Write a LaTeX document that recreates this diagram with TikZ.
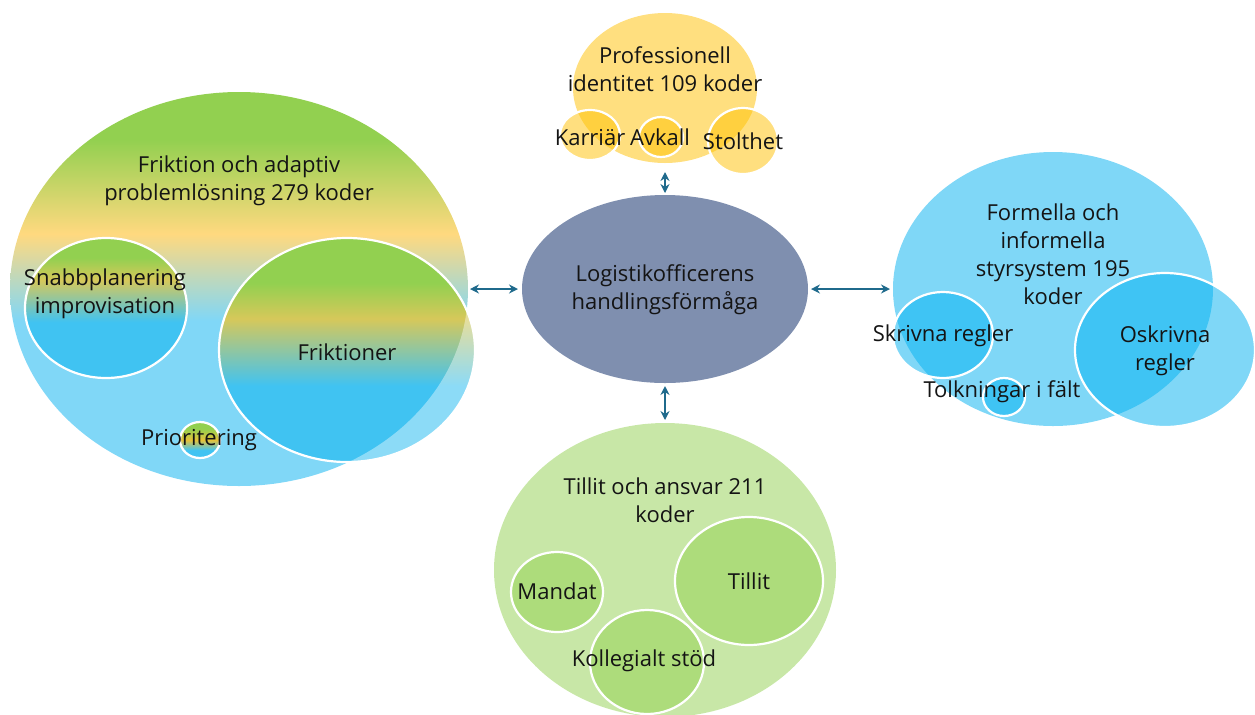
\documentclass[tikz,border=0pt]{standalone}
\usepackage{fontspec}
\setmainfont{Open Sans}
\usetikzlibrary{shapes.geometric,arrows.meta}
\definecolor{cgreen}{HTML}{92D050}
\definecolor{cyellow}{HTML}{FFD97F}
\definecolor{clblue}{HTML}{80D7F7}
\definecolor{cblue}{HTML}{40C3F2}
\definecolor{colive}{HTML}{D6C85A}
\definecolor{corange}{HTML}{E5C23A}
\definecolor{yfill}{HTML}{FFC000}
\definecolor{bfill}{HTML}{00B0F0}
\definecolor{gfill}{HTML}{92D050}
\definecolor{corefill}{HTML}{7F8FAF}
\definecolor{arrowc}{HTML}{1F6A8C}
\definecolor{txt}{HTML}{141414}
\pgfdeclareverticalshading{bigLshade}{100bp}{color(0bp)=(clblue); color(46bp)=(clblue); color(57bp)=(cyellow); color(69bp)=(cgreen); color(100bp)=(cgreen)}
\pgfdeclareverticalshading{snabshade}{100bp}{color(0bp)=(cblue); color(45bp)=(cblue); color(60bp)=(colive); color(68bp)=(cgreen); color(100bp)=(cgreen)}
\pgfdeclareverticalshading{frshade}{100bp}{color(0bp)=(cblue); color(42bp)=(cblue); color(57bp)=(colive); color(65bp)=(cgreen); color(100bp)=(cgreen)}
\pgfdeclareverticalshading{prioshade}{100bp}{color(0bp)=(cblue); color(36bp)=(cblue); color(50bp)=(corange); color(66bp)=(cgreen); color(100bp)=(cgreen)}
\begin{document}
\begin{tikzpicture}[x=0.5pt, y=-0.5pt,
  font=\fontsize{11pt}{14pt}\selectfont,
  blob/.style 2 args={ellipse, inner sep=0pt, outer sep=0pt, minimum width=#1pt, minimum height=#2pt},
  ring/.style={draw=white, line width=1.1pt},
  ysoft/.style={fill=yfill, fill opacity=0.5},
  bsoft/.style={fill=bfill, fill opacity=0.5},
  gsoft/.style={fill=gfill, fill opacity=0.5},
  lbl/.style={align=center, text=txt, inner sep=0pt},
  conn/.style={draw=arrowc, line width=0.8pt, {Stealth[length=4.5pt,width=4.5pt]}-{Stealth[length=4.5pt,width=4.5pt]}}]
\useasboundingbox (0,0) rectangle (1255,714);
% left cluster
\node[blob={229}{197}, shade, shading=bigLshade] (fric) at (239,289) {};
\node[blob={81}{70}, shade, shading=snabshade, ring] (snab) at (106,308) {};
\node[blob={20}{18}, shade, shading=prioshade, ring] (prio) at (200,440) {};
\node[blob={128}{112}, shade, shading=frshade, ring] (frik) at (347,350) {};
\begin{scope}
  \clip (frik.center) ellipse [x radius=64pt, y radius=56pt];
  \fill[white, fill opacity=0.4, even odd rule] (0,0) rectangle (1255,714) (fric.center) ellipse [x radius=114.5pt, y radius=98.5pt];
\end{scope}
% top cluster
\node[blob={92}{75}, ysoft] (prof) at (665,88) {};
\node[blob={30}{25}, ysoft, ring] (karr) at (590,135) {};
\node[blob={22}{20}, ysoft, ring] (avk) at (661,137) {};
\node[blob={35}{33}, ysoft, ring] (stol) at (743,141) {};
% centre
\node[blob={143}{94}, fill=corefill] (core) at (665,289) {};
% right cluster
\node[blob={160}{137}, bsoft] (form) at (1053,289) {};
\node[blob={50}{43}, bsoft, ring] (skr) at (943,335) {};
\node[blob={21}{19}, bsoft, ring] (tolk) at (1004,397) {};
\node[blob={90}{77}, bsoft, ring] (oskr) at (1165,350) {};
% bottom cluster
\node[blob={171}{147}, gsoft] (till) at (665,570) {};
\node[blob={46}{40}, gsoft, ring] (mand) at (557,592) {};
\node[blob={74}{64}, gsoft, ring] (tilt) at (749,581) {};
\node[blob={57}{52}, gsoft, ring] (koll) at (647,662) {};
% texts
\node[lbl] (tFric) at (239,181) {Friktion och adaptiv\\problemlösning 279 koder};
\node[lbl] (tSnab) at (105,294) {Snabbplanering\\improvisation};
\node[lbl] (tFrik) at (347,352) {Friktioner};
\node[lbl] (tPrio) at (199,440) {Prioritering};
\node[lbl] (tProf) at (665,69) {Professionell\\identitet 109 koder};
\node[lbl] (tKarr) at (590,138) {Karriär};
\node[lbl] (tAvk) at (660,137) {Avkall};
\node[lbl] (tStol) at (743,141) {Stolthet};
\node[lbl] (tCore) at (665,290) {Logistikofficerens\\handlingsförmåga};
\node[lbl] (tForm) at (1053,254) {Formella och\\informella\\styrsystem 195\\koder};
\node[lbl] (tSkr) at (943,336) {Skrivna regler};
\node[lbl] (tTolk) at (1002,392) {Tolkningar i fält};
\node[lbl] (tOskr) at (1165,351) {Oskrivna\\regler};
\node[lbl] (tTill) at (665,500) {Tillit och ansvar 211\\koder};
\node[lbl] (tMand) at (557,591) {Mandat};
\node[lbl] (tTilt) at (749,581) {Tillit};
\node[lbl] (tKoll) at (644,661) {Kollegialt stöd};
% connectors
\draw[conn, shorten <=1pt, shorten >=2pt] (fric.east) -- (core.west);
\draw[conn, shorten <=1.5pt, shorten >=1.5pt] (core.east) -- (form.west);
\draw[conn, shorten <=4.5pt, shorten >=1pt] (prof.south) -- (core.north);
\draw[conn, shorten <=1.5pt, shorten >=1.5pt] (core.south) -- (till.north);
\end{tikzpicture}
\end{document}
